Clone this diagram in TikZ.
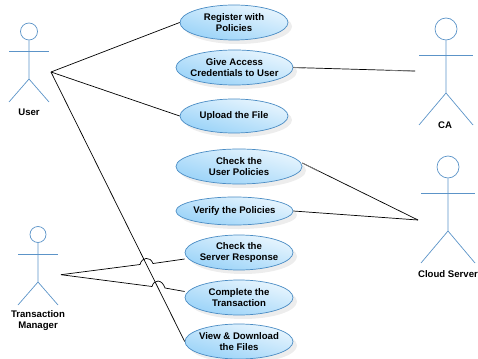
\documentclass[tikz,border=0pt]{standalone}
\usepackage{fontspec}
\setmainfont{Liberation Sans}
\usetikzlibrary{shapes.geometric,shadows}

\definecolor{caseedge}{HTML}{4A8CC4}
\definecolor{casetop}{HTML}{EAF6FE}
\definecolor{casebottom}{HTML}{98D2F8}
\definecolor{actorblue}{HTML}{5C94C8}

\tikzset{
  usecase/.style={ellipse, draw=caseedge, line width=0.7pt, inner xsep=-30pt, inner ysep=-8pt,
    align=center, font=\fontsize{9.6}{11}\selectfont\bfseries,
    top color=casetop, bottom color=casebottom, shading angle=-15,
    drop shadow={fill=black, opacity=.07, shadow xshift=4pt, shadow yshift=-4pt}},
  actorline/.style={draw=actorblue, line width=0.7pt},
  actorlabel/.style={inner sep=0pt, align=center, font=\fontsize{9.6}{11}\selectfont\bfseries},
  assoc/.style={draw=black, line width=0.7pt},
  assocfade/.style={draw=black!50, line width=0.8pt},
}

% name, x, head radius, head top, half span, arms, hip, feet
\newcommand{\stickman}[8]{
  \node[circle, actorline, minimum size=#3*2pt, inner sep=0pt] (#1head) at (#2,#4+#3) {};
  \draw[actorline] (#1head.south) -- (#2,#7) -- (#2-#5,#8);
  \draw[actorline] (#2,#7) -- (#2+#5,#8);
  \draw[actorline] (#2-#5,#6) -- (#2+#5,#6);
}

\begin{document}
\begin{tikzpicture}[x=1pt, y=-1pt]
  \useasboundingbox (0,0) rectangle (478,358);

  % use cases
  \node[usecase, minimum width=108pt, minimum height=35pt] (register) at (234,22.5) {Register with\\Policies};
  \node[usecase, minimum width=117pt, minimum height=35pt] (access) at (234.5,67.5) {Give Access\\Credentials to User};
  \node[usecase, minimum width=108pt, minimum height=34pt] (upload) at (234,116) {Upload the File};
  \node[usecase, minimum width=126pt, minimum height=35pt] (checkuser) at (239,166.5) {Check the\\User Policies};
  \node[usecase, minimum width=117pt, minimum height=28pt] (verify) at (234.5,211) {Verify the Policies};
  \node[usecase, minimum width=108pt, minimum height=35pt] (checkserver) at (239,252.5) {Check the\\Server Response};
  \node[usecase, minimum width=108pt, minimum height=35pt] (complete) at (239,297.5) {Complete the\\Transaction};
  \node[usecase, minimum width=108pt, minimum height=35pt] (view) at (239,341.5) {View \& Download\\the Files};

  % actors
  \stickman{user}{29}{8.5}{23}{20}{51}{79}{102}
  \stickman{ca}{446}{11}{18}{27}{55.5}{93}{125}
  \stickman{cloud}{448}{11}{156}{27}{193}{231}{263}
  \stickman{tm}{38}{8}{226.5}{20}{254.5}{282}{305}

  \node[actorlabel] (userlabel) at (29,112.5) {User};
  \node[actorlabel] (calabel) at (445,125.5) {CA};
  \node[actorlabel] (cloudlabel) at (448,274.5) {Cloud Server};
  \node[actorlabel] (tmlabel) at (38,321) {Transaction\\Manager};

  % connector ends
  \coordinate (userport) at (51,72);
  \coordinate (caport) at (415,71);
  \coordinate (cloudport) at (418,220);
  \coordinate (tmport) at (61,274.7);

  % associations
  \draw[assoc] (userport) -- (register.west);
  \draw[assoc] (userport) -- (upload.west);
  \draw[assoc] (userport) -- (view.west);
  \draw[assoc] (access.east) -- (caport);
  \draw[assoc] (checkuser.east) ++(0,-3.5) -- (cloudport);
  \draw[assoc] (verify.east) -- (cloudport);

  % line jumps over the view line
  \draw[assoc] (tmport) -- (140,264.5) .. controls (142,257) and (150,256) .. (153,263.5) -- (checkserver.west |- 0,259);
  \draw[assoc] (tmport) -- (152,286.5) .. controls (154,279) and (162,279) .. (165,288) -- (complete.west |- 0,291.5);

  % faded ends
  \draw[assocfade] (access.east) -- (305,68);
  \draw[assocfade] (390,70.5) -- (caport);
  \draw[assocfade] (checkuser.east) ++(0,-3.5) -- (318,171);
\end{tikzpicture}
\end{document}
